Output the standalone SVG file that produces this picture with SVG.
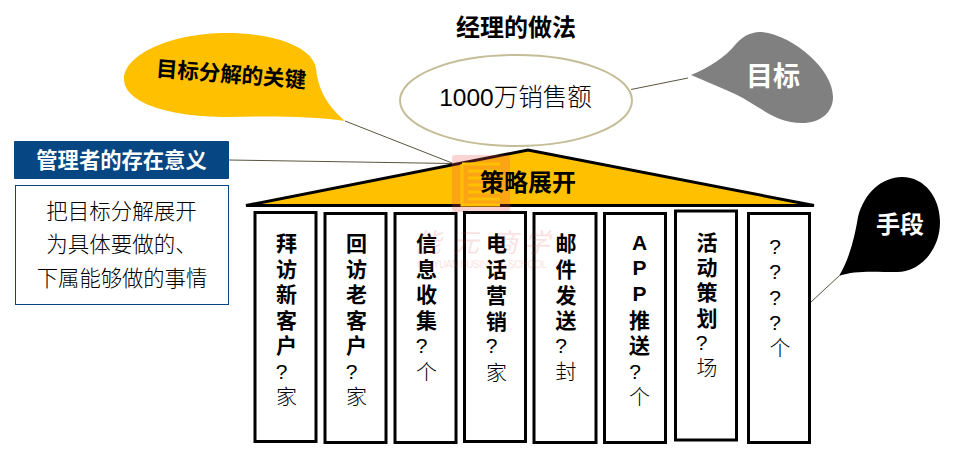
<svg xmlns="http://www.w3.org/2000/svg" width="960" height="454" viewBox="0 0 960 454">
<style>
text{font-family:"Liberation Sans","Noto Sans CJK SC",sans-serif;fill:#000;text-anchor:middle}
.cjk{font-family:"Noto Sans CJK SC","Liberation Sans",sans-serif}
.b{font-weight:700}
.l{font-weight:300}
.w{fill:#fff}
.col{font-size:21px}
.pillar{fill:#fff;stroke:#000;stroke-width:3}
.lead{fill:none;stroke:#5a5440;stroke-width:1}
</style>
<rect width="960" height="454" fill="#fff"/>
<g id="connectors">
<line class="lead" x1="345" y1="121" x2="452" y2="163"/>
<line class="lead" x1="229" y1="160" x2="452" y2="163.5"/>
<line class="lead" x1="631" y1="89.500" x2="688" y2="78"/>
<line class="lead" x1="811" y1="302" x2="839" y2="276"/>
</g>
<g id="goal-ellipse">
<ellipse cx="516" cy="100.500" rx="116" ry="45.500" fill="#fff" stroke="#c4bd97" stroke-width="2"/>
<text class="l" x="515.500" y="106" font-size="24.500">1000万销售额</text>
</g>
<g id="title"><text class="b" x="516" y="36" font-size="24">经理的做法</text></g>
<g id="key-bubble">
<path d="M345 121C330 108 318 92 316 68C312 45 270 33 227 33C170 33 124 55 124 79C124 103 170 117 227 117C270 116 310 116 345 121Z" fill="#ffc000"/>
<text class="b" x="231" y="82" font-size="21.500" transform="rotate(4.500 231 74.500)">目标分解的关键</text>
</g>
<g id="goal-bubble">
<path d="M691 75C710 67 725 57 735 45C745 33 755 32 762 32C795 36 833 70 833 97C833 113 820 123 802 123C775 123 760 106 735 94C720 87 705 81 691 75Z" fill="#808080"/>
<text class="b w" x="773" y="86" font-size="27">目标</text>
</g>
<g id="means-bubble">
<path d="M839 276C850 258 855 235 858 217C864 193 882 177 902 177C925 177 940 198 940 222C940 250 920 272 897 272C875 272 855 270 839 276Z" fill="#000"/>
<text class="b w" x="900" y="233" font-size="24">手段</text>
</g>
<g id="meaning-header">
<rect x="14" y="141" width="215" height="38" rx="1" fill="#054683"/>
<text class="b w" x="121.500" y="168" font-size="21.300">管理者的存在意义</text>
</g>
<g id="meaning-body">
<rect x="15.500" y="185.500" width="213" height="119" fill="#fff" stroke="#054683" stroke-width="1"/>
<text class="l" x="121.500" y="219" font-size="21.500">把目标分解展开</text>
<text class="l" x="121.500" y="252" font-size="21.500">为具体要做的、</text>
<text class="l" x="122" y="286" font-size="21.300">下属能够做的事情</text>
</g>
<g id="roof">
<path d="M246 205.500L528 150L814 205.500Z" fill="#ffc000" stroke="#000" stroke-width="3" stroke-linejoin="miter" stroke-miterlimit="2"/>
<rect x="452" y="155" width="58" height="57" rx="3" fill="#f05050" fill-opacity="0.25"/>
<path d="M462 164H500M468 171H500M468 178H500M468 185H500M468 192H500M468 199H500M462 164V205H500" fill="none" stroke="#ffc000" stroke-width="3"/>
<text class="b" x="528" y="191" font-size="24">策略展开</text>
</g>
<g id="pillar-1"><rect class="pillar" x="255" y="212.500" width="61" height="229"/>
<text class="b col" x="286.500" y="250.500">拜</text><text class="b col" x="286.500" y="276.500">访</text><text class="b col" x="286.500" y="302">新</text><text class="b col" x="286.500" y="328">客</text><text class="b col" x="286.500" y="353">户</text><text class="col l" x="281.500" y="379">?</text><text class="col l" x="286.500" y="404">家</text></g>
<g id="pillar-2"><rect class="pillar" x="325" y="213.500" width="61" height="229"/>
<text class="b col" x="356.500" y="250.500">回</text><text class="b col" x="356.500" y="276.500">访</text><text class="b col" x="356.500" y="302">老</text><text class="b col" x="356.500" y="328">客</text><text class="b col" x="356.500" y="353">户</text><text class="col l" x="351.500" y="379">?</text><text class="col l" x="356.500" y="404">家</text></g>
<g id="pillar-3"><rect class="pillar" x="395" y="213.500" width="61" height="229"/>
<text class="b col" x="426.500" y="250.500">信</text><text class="b col" x="426.500" y="276.500">息</text><text class="b col" x="426.500" y="302">收</text><text class="b col" x="426.500" y="328">集</text><text class="col l" x="421.500" y="353">?</text><text class="col l" x="426.500" y="379">个</text></g>
<g id="pillar-4"><rect class="pillar" x="464.500" y="212.500" width="61" height="229"/>
<text class="b col" x="496.500" y="250.500">电</text><text class="b col" x="496.500" y="277">话</text><text class="b col" x="496.500" y="302.500">营</text><text class="b col" x="496.500" y="329">销</text><text class="col l" x="491.500" y="353">?</text><text class="col l" x="496.500" y="380">家</text></g>
<g id="pillar-5"><rect class="pillar" x="534" y="213.500" width="62" height="229"/>
<text class="b col" x="566" y="250.500">邮</text><text class="b col" x="566" y="277">件</text><text class="b col" x="566" y="302.500">发</text><text class="b col" x="566" y="328">送</text><text class="col l" x="561" y="353">?</text><text class="col l" x="566" y="379">封</text></g>
<g id="pillar-6"><rect class="pillar" x="604.500" y="213.500" width="61" height="229"/>
<text class="b col" x="639.500" y="250">A</text><text class="b col" x="639.500" y="275">P</text><text class="b col" x="639.500" y="301">P</text><text class="b col" x="639.500" y="328">推</text><text class="b col" x="639.500" y="353">送</text><text class="col l" x="635" y="379">?</text><text class="col l" x="639.500" y="404">个</text></g>
<g id="pillar-7"><rect class="pillar" x="675.500" y="211" width="61" height="229"/>
<text class="b col" x="707" y="249.500">活</text><text class="b col" x="707" y="275">动</text><text class="b col" x="707" y="300">策</text><text class="b col" x="707" y="325.500">划</text><text class="col l" x="701.500" y="350">?</text><text class="col l" x="707" y="375">场</text></g>
<g id="pillar-8"><rect class="pillar" x="748.500" y="213.500" width="61" height="229"/>
<text class="col l" x="775" y="254">?</text><text class="col l" x="775" y="279">?</text><text class="col l" x="775" y="305">?</text><text class="col l" x="775" y="330">?</text><text class="col l" x="780" y="355">个</text></g>
<g id="watermark" opacity="0.15">
<text class="cjk" x="428 466 505 537" y="252" font-size="26" font-style="italic" style="fill:#e04040">能元商学</text>
<text x="482" y="268" font-size="10" textLength="130" style="fill:#e04040">QINYUAN BUSINESS SCHOOL</text>
</g>
</svg>
